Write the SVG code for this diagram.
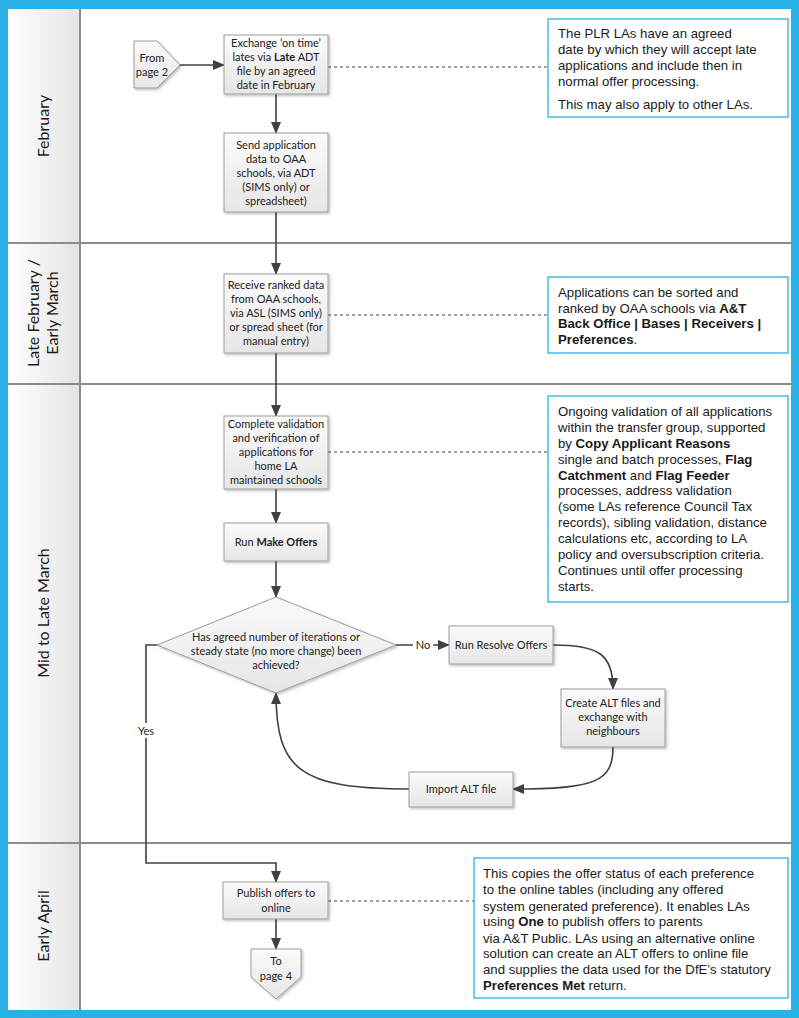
<svg xmlns="http://www.w3.org/2000/svg" width="799" height="1018" viewBox="0 0 799 1018">
<defs>
<linearGradient id="boxg" x1="0" y1="0" x2="0" y2="1"><stop offset="0" stop-color="#fbfbfb"/><stop offset="1" stop-color="#e6e6e6"/></linearGradient>
<linearGradient id="hdrg" x1="0" y1="0" x2="1" y2="0"><stop offset="0" stop-color="#ffffff"/><stop offset="1" stop-color="#e4e4e4"/></linearGradient>
<filter id="sh" x="-10%" y="-10%" width="130%" height="130%"><feDropShadow dx="1.5" dy="1.5" stdDeviation="1" flood-color="#000" flood-opacity="0.25"/></filter>
<marker id="ah" markerWidth="12" markerHeight="10" refX="11" refY="5" orient="auto" markerUnits="userSpaceOnUse"><path d="M0,0 L12,5 L0,10 Z" fill="#404040"/></marker>
</defs>
<style>
.box{fill:url(#boxg);stroke:#9c9c9c;stroke-width:1;filter:url(#sh)}
.pt{font-family:Lato,"Open Sans","Liberation Sans",sans-serif;font-size:11px;fill:#222;text-anchor:middle}
.nt{font-family:"Liberation Sans",Arial,sans-serif;font-size:13.2px;fill:#1a1a1a}
.note{fill:#fff;stroke:#29b2e6;stroke-width:1.3}
.lane{font-family:Lato,"Open Sans","Liberation Sans",sans-serif;font-size:16px;fill:#1a1a1a;text-anchor:middle}
.cn{fill:none;stroke:#404040;stroke-width:1.6}
.dt{fill:none;stroke:#444;stroke-width:1;stroke-dasharray:3,3}
.sep{stroke:#8c8c8c;stroke-width:2}
</style>
<rect x="0" y="0" width="799" height="1018" fill="#29b2e6"/>
<rect x="8" y="9" width="783" height="1001" fill="#ffffff"/>
<g id="lanes">
<rect x="8" y="9" width="72" height="1001" fill="url(#hdrg)"/>
<line x1="80" y1="9" x2="80" y2="1010" class="sep"/>
<line x1="8" y1="243" x2="791" y2="243" class="sep"/>
<line x1="8" y1="384" x2="791" y2="384" class="sep"/>
<line x1="8" y1="843" x2="791" y2="843" class="sep"/>
<text class="lane" transform="translate(49,126) rotate(-90)">February</text>
<text class="lane" transform="translate(39,313) rotate(-90)">Late February /</text>
<text class="lane" transform="translate(58,313) rotate(-90)">Early March</text>
<text class="lane" transform="translate(49,613) rotate(-90)">Mid to Late March</text>
<text class="lane" transform="translate(49,926) rotate(-90)">Early April</text>
</g>
<g id="connectors">
<line x1="180" y1="65" x2="224" y2="65" class="cn" marker-end="url(#ah)"/>
<line x1="276" y1="94" x2="276" y2="133" class="cn" marker-end="url(#ah)"/>
<line x1="276" y1="212" x2="276" y2="274" class="cn" marker-end="url(#ah)"/>
<line x1="276" y1="353" x2="276" y2="416" class="cn" marker-end="url(#ah)"/>
<line x1="276" y1="489" x2="276" y2="523" class="cn" marker-end="url(#ah)"/>
<line x1="276" y1="561" x2="276" y2="597" class="cn" marker-end="url(#ah)"/>
<line x1="396" y1="645" x2="449" y2="645" class="cn" marker-end="url(#ah)"/>
<path d="M553,645 C600,645 613,655 613,689" class="cn" marker-end="url(#ah)"/>
<path d="M613,747 C613,782 595,789 513,789" class="cn" marker-end="url(#ah)"/>
<path d="M409,789 C300,789 276,770 276,693" class="cn" marker-end="url(#ah)"/>
<path d="M157,645 L146,645 L146,863 L276,863 L276,882" class="cn" marker-end="url(#ah)"/>
<line x1="276" y1="919" x2="276" y2="949" class="cn" marker-end="url(#ah)"/>
<rect x="413" y="638" width="20" height="14" fill="#fff"/>
<text class="pt" x="423" y="649">No</text>
<rect x="133" y="723" width="26" height="15" fill="#fff"/>
<text class="pt" x="146" y="735">Yes</text>
<line x1="328" y1="67" x2="548" y2="67" class="dt"/>
<line x1="328" y1="315" x2="548" y2="315" class="dt"/>
<line x1="328" y1="452" x2="548" y2="452" class="dt"/>
<line x1="328" y1="901" x2="474" y2="901" class="dt"/>
</g>
<g id="from2">
<path d="M134,41 L157,41 L180,65 L157,88 L134,88 Z" class="box"/>
<text class="pt" x="152" y="62">From</text>
<text class="pt" x="152" y="76">page 2</text>
</g>
<g id="exchange">
<rect x="224" y="35" width="104" height="59" class="box"/>
<text class="pt" x="276" y="47">Exchange ‘on time’</text>
<text class="pt" x="276" y="61">lates via <tspan font-weight="bold">Late</tspan> ADT</text>
<text class="pt" x="276" y="75">file by an agreed</text>
<text class="pt" x="276" y="89">date in February</text>
</g>
<g id="send">
<rect x="224" y="133" width="104" height="79" class="box"/>
<text class="pt" x="276" y="149">Send application</text>
<text class="pt" x="276" y="163">data to OAA</text>
<text class="pt" x="276" y="177">schools, via ADT</text>
<text class="pt" x="276" y="191">(SIMS only) or</text>
<text class="pt" x="276" y="205">spreadsheet)</text>
</g>
<g id="receive">
<rect x="224" y="274" width="104" height="79" class="box"/>
<text class="pt" x="276" y="289">Receive ranked data</text>
<text class="pt" x="276" y="303">from OAA schools,</text>
<text class="pt" x="276" y="317">via ASL (SIMS only)</text>
<text class="pt" x="276" y="331">or spread sheet (for</text>
<text class="pt" x="276" y="345">manual entry)</text>
</g>
<g id="validate">
<rect x="224" y="416" width="104" height="73" class="box"/>
<text class="pt" x="276" y="428">Complete validation</text>
<text class="pt" x="276" y="442">and verification of</text>
<text class="pt" x="276" y="456">applications for</text>
<text class="pt" x="276" y="470">home LA</text>
<text class="pt" x="276" y="484">maintained schools</text>
</g>
<g id="makeoffers">
<rect x="224" y="523" width="104" height="38" class="box"/>
<text class="pt" x="276" y="546">Run <tspan font-weight="bold">Make Offers</tspan></text>
</g>
<g id="decision">
<path d="M276,597 L396,645 L276,693 L157,645 Z" class="box"/>
<text class="pt" x="276" y="641">Has agreed number of iterations or</text>
<text class="pt" x="276" y="655">steady state (no more change) been</text>
<text class="pt" x="276" y="669">achieved?</text>
</g>
<g id="resolve">
<rect x="449" y="626" width="104" height="38" class="box"/>
<text class="pt" x="501" y="649">Run Resolve Offers</text>
</g>
<g id="createalt">
<rect x="561" y="689" width="104" height="58" class="box"/>
<text class="pt" x="613" y="707">Create ALT files and</text>
<text class="pt" x="613" y="721">exchange with</text>
<text class="pt" x="613" y="735">neighbours</text>
</g>
<g id="importalt">
<rect x="409" y="772" width="104" height="35" class="box"/>
<text class="pt" x="461" y="793">Import ALT file</text>
</g>
<g id="publish">
<rect x="223" y="882" width="105" height="37" class="box"/>
<text class="pt" x="276" y="897">Publish offers to</text>
<text class="pt" x="276" y="912">online</text>
</g>
<g id="to4">
<path d="M251,949 L301,949 L301,977 L276,999 L251,977 Z" class="box"/>
<text class="pt" x="276" y="965">To</text>
<text class="pt" x="276" y="980">page 4</text>
</g>
<g id="note1">
<rect x="548" y="19" width="240" height="98" class="note"/>
<text class="nt" x="558" y="38">The PLR LAs have an agreed</text>
<text class="nt" x="558" y="54">date by which they will accept late</text>
<text class="nt" x="558" y="70">applications and include then in</text>
<text class="nt" x="558" y="86">normal offer processing.</text>
<text class="nt" x="558" y="109">This may also apply to other LAs.</text>
</g>
<g id="note2">
<rect x="548" y="277" width="240" height="76" class="note"/>
<text class="nt" x="558" y="297">Applications can be sorted and</text>
<text class="nt" x="558" y="313">ranked by OAA schools via <tspan font-weight="bold">A&amp;T</tspan></text>
<text class="nt" x="558" y="328" font-weight="bold">Back Office | Bases | Receivers |</text>
<text class="nt" x="558" y="344"><tspan font-weight="bold">Preferences</tspan>.</text>
</g>
<g id="note3">
<rect x="548" y="396" width="240" height="206" class="note"/>
<text class="nt" x="558" y="416">Ongoing validation of all applications</text>
<text class="nt" x="558" y="432">within the transfer group, supported</text>
<text class="nt" x="558" y="448">by <tspan font-weight="bold">Copy Applicant Reasons</tspan></text>
<text class="nt" x="558" y="464">single and batch processes, <tspan font-weight="bold">Flag</tspan></text>
<text class="nt" x="558" y="480"><tspan font-weight="bold">Catchment</tspan> and <tspan font-weight="bold">Flag Feeder</tspan></text>
<text class="nt" x="558" y="495">processes, address validation</text>
<text class="nt" x="558" y="511">(some LAs reference Council Tax</text>
<text class="nt" x="558" y="527">records), sibling validation, distance</text>
<text class="nt" x="558" y="543">calculations etc, according to LA</text>
<text class="nt" x="558" y="559">policy and oversubscription criteria.</text>
<text class="nt" x="558" y="575">Continues until offer processing</text>
<text class="nt" x="558" y="591">starts.</text>
</g>
<g id="note4">
<rect x="474" y="858" width="314" height="140" class="note"/>
<text class="nt" x="483" y="878">This copies the offer status of each preference</text>
<text class="nt" x="483" y="894">to the online tables (including any offered</text>
<text class="nt" x="483" y="911">system generated preference). It enables LAs</text>
<text class="nt" x="483" y="926">using  <tspan font-weight="bold">One</tspan> to publish offers to parents</text>
<text class="nt" x="483" y="943">via A&amp;T Public. LAs using an alternative online</text>
<text class="nt" x="483" y="958">solution can create an ALT offers to online file</text>
<text class="nt" x="483" y="974">and supplies the data used for the DfE’s statutory</text>
<text class="nt" x="483" y="990"><tspan font-weight="bold">Preferences Met</tspan> return.</text>
</g>
</svg>
